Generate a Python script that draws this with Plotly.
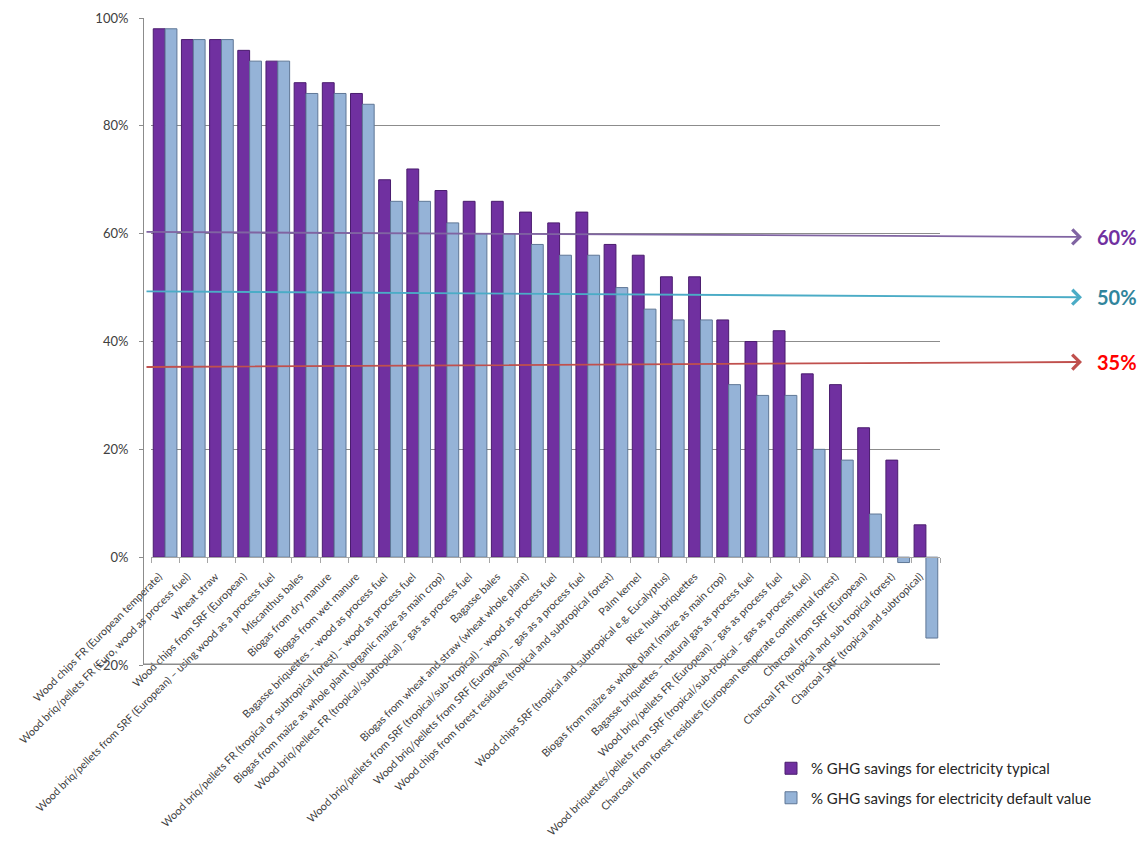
import plotly.graph_objects as go

categories = [
    "Wood chips FR (European temperate)",
    "Wood briq/pellets FR (Euro, wood as process fuel)",
    "Wheat straw",
    "Wood chips from SRF (European)",
    "Wood briq/pellets from SRF (European) – using wood as a process fuel",
    "Miscanthus bales",
    "Biogas from dry manure",
    "Biogas from wet manure",
    "Bagasse briquettes – wood as process fuel",
    "Wood briq/pellets FR (tropical or subtropical forest) – wood as process fuel",
    "Biogas from maize as whole plant (organic maize as main crop)",
    "Wood briq/pellets FR (tropical/subtropical) – gas as process fuel",
    "Bagasse bales",
    "Biogas from wheat and straw (wheat whole plant)",
    "Wood briq/pellets from SRF (tropical/sub-tropical) – wood as process fuel",
    "Wood briq/pellets from SRF (European) – gas as a process fuel",
    "Wood chips from forest residues (tropical and subtropical forest)",
    "Palm kernel",
    "Wood chips SRF (tropical and subtropical e.g. Eucalyptus)",
    "Rice husk briquettes",
    "Biogas from maize as whole plant (maize as main crop)",
    "Bagasse briquettes – natural gas as process fuel",
    "Wood briq/pellets FR (European) – gas as process fuel",
    "Wood briquettes/pellets from SRF (tropical/sub-tropical – gas as process fuel)",
    "Charcoal from forest residues (European temperate continental forest)",
    "Charcoal from SRF (European)",
    "Charcoal FR (tropical and sub tropical forest)",
    "Charcoal SRF (tropical and subtropical)",
]

typical = [98, 96, 96, 94, 92, 88, 88, 86, 70, 72, 68, 66, 66, 64, 62, 64, 58, 56,
           52, 52, 44, 40, 42, 34, 32, 24, 18, 6]
default = [98, 96, 96, 92, 92, 86, 86, 84, 66, 66, 62, 60, 60, 58, 56, 56, 50, 46,
           44, 44, 32, 30, 30, 20, 18, 8, -1, -15]

series_names = ["% GHG savings for electricity typical",
                "% GHG savings for electricity default value"]

thresholds = [60, 50, 35]
threshold_labels = ["60%", "50%", "35%"]

FONT = "Lato"

fig = go.Figure()
fig.add_trace(go.Bar(x=categories, y=typical, name=series_names[0],
                     marker=dict(color="#7030A0", line=dict(color="#4A1C6E", width=1)),
                     legendgroup="a"))
fig.add_trace(go.Bar(x=categories, y=default, name=series_names[1],
                     marker=dict(color="#95B3D7", line=dict(color="#5F7796", width=1)),
                     legendgroup="b"))

# plot area geometry
L, R, T, B = 143, 201, 18, 188
W, H = 1141, 853
plot_w = W - L - R
plot_h = H - T - B
ymin, ymax = -20, 100
zero_pos = (0 - ymin) / (ymax - ymin)

def px_x(px):
    return (px - L) / plot_w

# floor line at -20%
fig.add_shape(type="line", xref="paper", yref="y", x0=0, x1=1.0, y0=ymin, y1=ymin,
              line=dict(color="#8C8C8C", width=3))

# threshold arrows
line_colors = ["#8064A2", "#4BACC6", "#C0504D"]
text_colors = ["#7030A0", "#31859C", "#FF0000"]
head_shift = [-0.6, -1.8, 1.2]
tail_dy = [-5, -6, 5]
head_x_px = 1082
tail_x_px = 145
for thr, lab, lc, tc, hs, dy in zip(thresholds, threshold_labels, line_colors,
                                     text_colors, head_shift, tail_dy):
    fig.add_annotation(x=px_x(head_x_px), xref="paper", y=thr + hs, yref="y",
                       text="", showarrow=True, arrowhead=4, arrowsize=1.6,
                       arrowwidth=1.8, arrowcolor=lc, ax=tail_x_px - head_x_px, ay=dy,
                       standoff=0, startstandoff=0)
    fig.add_annotation(x=px_x(1117), xref="paper", xanchor="center", y=thr + hs, yref="y",
                       yanchor="middle",
                       text="<b>%s</b>" % lab, showarrow=False,
                       font=dict(family=FONT, size=20, color=tc))

fig.update_layout(
    width=W, height=H,
    margin=dict(l=L, r=R, t=T, b=B, autoexpand=False),
    paper_bgcolor="white", plot_bgcolor="white",
    barmode="group", bargap=0.16, bargroupgap=0,
    font=dict(family=FONT, color="#404040"),
    legend=dict(x=px_x(771), xanchor="left", y=(665 - 752) / plot_h,
                yanchor="top", font=dict(family=FONT, size=15, color="#262626"),
                tracegroupgap=7, bgcolor="rgba(0,0,0,0)"),
    xaxis=dict(domain=[8 / plot_w, 1], anchor="free", position=zero_pos, tickangle=-45,
               tickfont=dict(family=FONT, size=10.8, color="#404040"),
               ticklabelstandoff=8, ticklabelshift=-6,
               showline=True, linecolor="#A6A6A6", linewidth=1,
               ticks="outside", ticklen=5, tickcolor="#A6A6A6", tickson="boundaries",
               automargin=False, showgrid=False),
    yaxis=dict(range=[ymin, ymax], dtick=20, ticksuffix="%", anchor="free", position=0,
               tickfont=dict(family=FONT, size=13, color="#404040"),
               ticklabelstandoff=8,
               showgrid=True, gridcolor="#8C8C8C", gridwidth=1,
               showline=True, linecolor="#8C8C8C", linewidth=1,
               ticks="outside", ticklen=4, tickcolor="#8C8C8C",
               zeroline=False, automargin=False),
)

fig.write_html("out.html")
